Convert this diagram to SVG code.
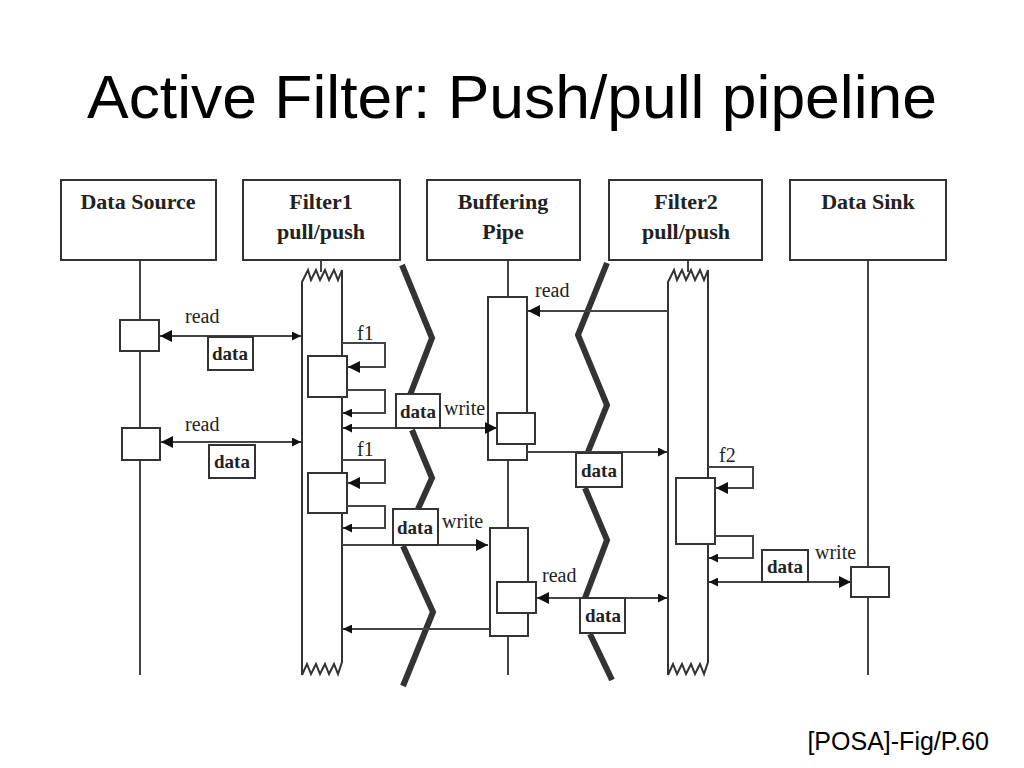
<svg xmlns="http://www.w3.org/2000/svg" width="1024" height="768" viewBox="0 0 1024 768">
<defs>
<marker id="big" viewBox="0 0 10 10" refX="10" refY="5" markerWidth="22" markerHeight="12" markerUnits="userSpaceOnUse" orient="auto"><path d="M0,0 L10,5 L0,10 z" fill="#111"/></marker>
<marker id="sm" viewBox="0 0 10 10" refX="10" refY="5" markerWidth="12" markerHeight="9" markerUnits="userSpaceOnUse" orient="auto"><path d="M0,0 L10,5 L0,10 z" fill="#111"/></marker>
</defs>
<style>
.b{fill:#fff;stroke:#333;stroke-width:2}
.l{fill:none;stroke:#444;stroke-width:2}
.sq{fill:none;stroke:#333;stroke-width:6;stroke-linejoin:miter}
.h{font-family:"Liberation Serif",serif;font-weight:bold;font-size:22px;fill:#222;text-anchor:middle}
.t{font-family:"Liberation Serif",serif;font-size:20px;fill:#222}
.d{font-family:"Liberation Serif",serif;font-weight:bold;font-size:19px;fill:#222;text-anchor:middle}
</style>
<rect width="1024" height="768" fill="#fff"/>
<text x="87" y="118" font-family="Liberation Sans,Arial,sans-serif" font-size="61" fill="#000" textLength="850" lengthAdjust="spacingAndGlyphs">Active Filter: Push/pull pipeline</text>
<text x="989" y="750" font-family="Liberation Sans,Arial,sans-serif" font-size="25" fill="#000" text-anchor="end">[POSA]-Fig/P.60</text>

<g id="lifelines">
<line class="l" x1="140" y1="260" x2="140" y2="675"/>
<line class="l" x1="321" y1="260" x2="321" y2="272"/>
<line class="l" x1="508" y1="260" x2="508" y2="675"/>
<line class="l" x1="688" y1="260" x2="688" y2="272"/>
<line class="l" x1="868" y1="260" x2="868" y2="675"/>
</g>

<g id="data-source"><rect class="b" x="61" y="180" width="155" height="80"/><text class="h" x="138" y="209">Data Source</text></g>
<g id="filter1"><rect class="b" x="243" y="180" width="157" height="80"/><text class="h" x="321" y="209">Filter1</text><text class="h" x="321" y="239">pull/push</text></g>
<g id="pipe"><rect class="b" x="427" y="180" width="153" height="80"/><text class="h" x="503" y="209">Buffering</text><text class="h" x="503" y="239">Pipe</text></g>
<g id="filter2"><rect class="b" x="609" y="180" width="153" height="80"/><text class="h" x="686" y="209">Filter2</text><text class="h" x="686" y="239">pull/push</text></g>
<g id="data-sink"><rect class="b" x="790" y="180" width="156" height="80"/><text class="h" x="868" y="209">Data Sink</text></g>

<g id="activations">
<path class="b" d="M302,675 L302,282 L308,270 L311,280 L316,270 L320,280 L325,270 L329,280 L334,270 L338,280 L342,270 L342,662 L338,674 L334,664 L329,674 L325,664 L320,674 L316,664 L311,674 L307,664 L302,675"/>
<path class="b" d="M668,675 L668,282 L674,270 L677,280 L682,270 L686,280 L691,270 L695,280 L700,270 L704,280 L708,270 L708,662 L704,674 L700,664 L695,674 L691,664 L686,674 L682,664 L677,674 L673,664 L668,675"/>
<rect class="b" x="488" y="297" width="39" height="163"/>
<rect class="b" x="490" y="528" width="38" height="108"/>
<rect class="b" x="120" y="320" width="39" height="31"/>
<rect class="b" x="122" y="428" width="38" height="32"/>
<rect class="b" x="308" y="356" width="39" height="41"/>
<rect class="b" x="308" y="473" width="39" height="40"/>
<rect class="b" x="497" y="413" width="38" height="31"/>
<rect class="b" x="497" y="582" width="39" height="31"/>
<rect class="b" x="676" y="478" width="39" height="66"/>
<rect class="b" x="851" y="567" width="38" height="30"/>
</g>

<g id="squiggles">
<polyline class="sq" points="402,265 432,338 410,395"/>
<polyline class="sq" points="412,430 432,478 418,509"/>
<polyline class="sq" points="403,546 433,612 403,686"/>
<polyline class="sq" points="607,263 578,335 607,405 588,452"/>
<polyline class="sq" points="585,488 607,540 585,598"/>
<polyline class="sq" points="590,634 612,680"/>
</g>

<g id="connectors">
<line class="l" x1="250" y1="336" x2="160" y2="336" marker-end="url(#big)"/>
<line class="l" x1="250" y1="336" x2="301" y2="336" marker-end="url(#sm)"/>
<line class="l" x1="250" y1="442" x2="161" y2="442" marker-end="url(#big)"/>
<line class="l" x1="250" y1="442" x2="301" y2="442" marker-end="url(#sm)"/>
<polyline class="l" points="342,343 385,343 385,367 348,367" marker-end="url(#big)"/>
<polyline class="l" points="347,390 385,390 385,413 343,413" marker-end="url(#sm)"/>
<line class="l" x1="420" y1="428" x2="343" y2="428" marker-end="url(#sm)"/>
<line class="l" x1="420" y1="428" x2="497" y2="428" marker-end="url(#big)"/>
<polyline class="l" points="342,460 385,460 385,483 348,483" marker-end="url(#big)"/>
<polyline class="l" points="347,506 385,506 385,528 343,528" marker-end="url(#sm)"/>
<line class="l" x1="342" y1="545" x2="488" y2="545" marker-end="url(#big)"/>
<line class="l" x1="668" y1="311" x2="528" y2="311" marker-end="url(#big)"/>
<line class="l" x1="527" y1="452" x2="667" y2="452" marker-end="url(#sm)"/>
<line class="l" x1="600" y1="598" x2="537" y2="598" marker-end="url(#big)"/>
<line class="l" x1="600" y1="598" x2="667" y2="598" marker-end="url(#sm)"/>
<line class="l" x1="490" y1="629" x2="343" y2="629" marker-end="url(#sm)"/>
<polyline class="l" points="708,467 753,467 753,488 716,488" marker-end="url(#big)"/>
<polyline class="l" points="715,536 753,536 753,558 709,558" marker-end="url(#sm)"/>
<line class="l" x1="780" y1="582" x2="709" y2="582" marker-end="url(#sm)"/>
<line class="l" x1="780" y1="582" x2="851" y2="582" marker-end="url(#big)"/>
</g>

<g id="labels">
<text class="t" x="185" y="323">read</text>
<rect class="b" x="208" y="337" width="45" height="33"/><text class="d" x="230" y="360">data</text>
<text class="t" x="185" y="431">read</text>
<rect class="b" x="209" y="445" width="46" height="33"/><text class="d" x="232" y="468">data</text>
<text class="t" x="357" y="340">f1</text>
<text class="t" x="357" y="456">f1</text>
<rect class="b" x="396" y="394" width="44" height="34"/><text class="d" x="418" y="418">data</text>
<text class="t" x="444" y="415">write</text>
<rect class="b" x="393" y="509" width="45" height="36"/><text class="d" x="415" y="534">data</text>
<text class="t" x="442" y="528">write</text>
<text class="t" x="535" y="297">read</text>
<rect class="b" x="576" y="453" width="46" height="34"/><text class="d" x="599" y="477">data</text>
<text class="t" x="542" y="582">read</text>
<rect class="b" x="580" y="598" width="45" height="35"/><text class="d" x="603" y="622">data</text>
<text class="t" x="719" y="462">f2</text>
<rect class="b" x="762" y="550" width="46" height="32"/><text class="d" x="785" y="573">data</text>
<text class="t" x="815" y="559">write</text>
</g>
</svg>
